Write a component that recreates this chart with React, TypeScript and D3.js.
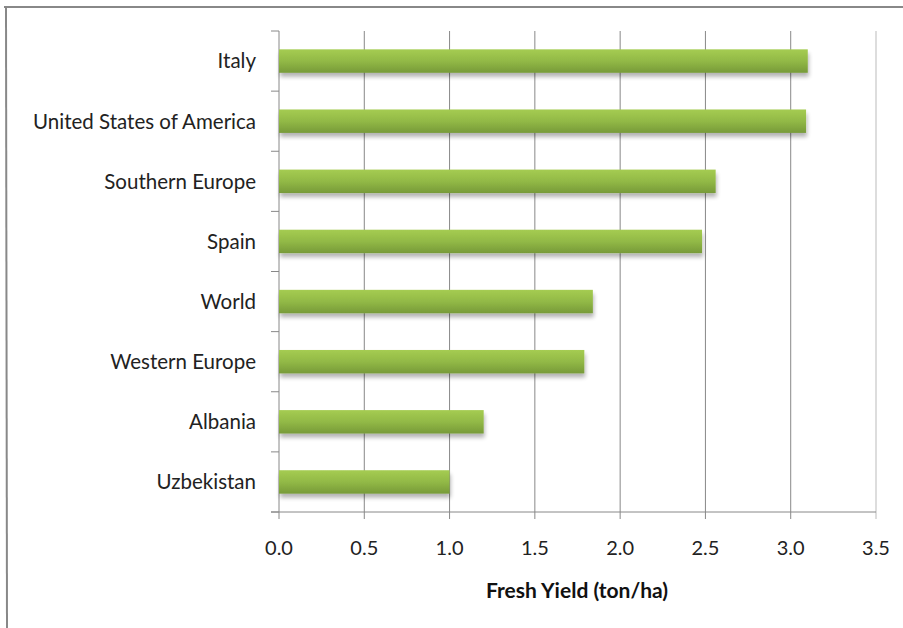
import React from "react";
import * as d3 from "d3";

const categories = ["Italy", "United States of America", "Southern Europe", "Spain", "World", "Western Europe", "Albania", "Uzbekistan"];
const values = [3.1, 3.09, 2.56, 2.48, 1.84, 1.79, 1.2, 1.0];
const ticks = [0, 0.5, 1, 1.5, 2, 2.5, 3, 3.5];
const axisTitle = "Fresh Yield (ton/ha)";

export default function App() {
  const W = 903, H = 628;
  const left = 279, right = 876, top = 31, bottom = 512;
  const x = d3.scaleLinear().domain([0, 3.5]).range([left, right]);
  const y = d3.scaleBand().domain(categories).range([top, bottom]).paddingInner(0.61).paddingOuter(0.305);
  const band = (bottom - top) / categories.length;
  const font = "Lato, 'Open Sans', sans-serif";
  return (
    <svg width={W} height={H} style={{ position: "absolute", left: 0, top: 0, background: "#fff" }}>
      <defs>
        <linearGradient id="barg" x1="0" y1="0" x2="0" y2="1">
          <stop offset="0" stopColor="#a5cc52" />
          <stop offset="0.5" stopColor="#92b946" />
          <stop offset="1" stopColor="#779a39" />
        </linearGradient>
        <filter id="shadow" x="-5%" y="-20%" width="115%" height="170%">
          <feGaussianBlur in="SourceAlpha" stdDeviation="2" />
          <feOffset dx="1" dy="4" result="o" />
          <feComponentTransfer><feFuncA type="linear" slope="0.3" /></feComponentTransfer>
          <feMerge><feMergeNode /><feMergeNode in="SourceGraphic" /></feMerge>
        </filter>
      </defs>
      {/* frame */}
      <line x1={4} y1={7} x2={W} y2={7} stroke="#888" strokeWidth={2} />
      <line x1={6} y1={7} x2={7} y2={H} stroke="#888" strokeWidth={2} />
      {/* gridlines */}
      {ticks.map((t, i) => (
        <line key={"g" + i} x1={x(t)} x2={x(t)} y1={top} y2={bottom + 7}
          stroke={i === ticks.length - 1 ? "#bbb" : "#888"} strokeWidth={1} />
      ))}
      {/* bottom axis */}
      <line x1={271} x2={right} y1={bottom} y2={bottom} stroke="#888" />
      {/* left category ticks */}
      {d3.range(categories.length + 1).map(i => (
        <line key={"t" + i} x1={271} x2={left} y1={top + i * band} y2={top + i * band} stroke="#888" />
      ))}
      {/* bars */}
      {categories.map((c, i) => (
        <rect key={c} x={x(0)} y={y(c)} width={x(values[i]) - x(0)} height={y.bandwidth()}
          fill="url(#barg)" filter="url(#shadow)" />
      ))}
      {/* category labels */}
      {categories.map(c => (
        <text key={"l" + c} x={256} y={(y(c) as number) + y.bandwidth() / 2} dy="0.36em" textAnchor="end"
          fontFamily={font} fontSize={20.5} fill="#222">{c}</text>
      ))}
      {/* tick labels */}
      {ticks.map((t, i) => (
        <text key={"x" + i} x={x(t)} y={555} textAnchor="middle" fontFamily={font} fontSize={20} fill="#222">{t.toFixed(1)}</text>
      ))}
      <text x={577} y={598} textAnchor="middle" fontFamily={font} fontSize={21} fontWeight="bold" fill="#111">{axisTitle}</text>
    </svg>
  );
}
